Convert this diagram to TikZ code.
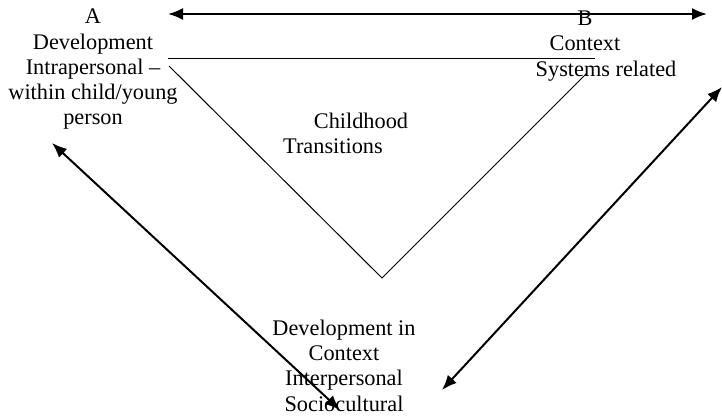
\documentclass[tikz,border=0pt]{standalone}
\usepackage{fontspec}
\setmainfont{Liberation Serif}
\usetikzlibrary{arrows.meta}
\newcommand\lblfont{\fontsize{11.15}{12.65}\selectfont}
\begin{document}
\begin{tikzpicture}[x=0.5pt,y=-0.5pt,
  lbl/.style={font=\lblfont,inner sep=0pt,align=center,anchor=base},
  tri/.style={line width=0.5pt},
  link/.style={line width=1pt,{Latex[length=7.5pt,width=6pt]}-{Latex[length=7.5pt,width=6pt]}}]
\useasboundingbox (0,0) rectangle (722,417);

% corners of the three-sided frame
\coordinate (topL) at (168,59);
\coordinate (topR) at (595,59);
\coordinate (legL) at (169,66);
\coordinate (legR) at (586,74);
\coordinate (apex) at (382,278);

\draw[tri] (topL) -- (topR);
\draw[tri] (legL) -- (apex) -- (legR);

% labels (base = last line)
\node[lbl] (devA) at (93,125) {A\\Development\\Intrapersonal --\\within child/young\\person};
\node[lbl] (ctxB) at (585,51) {B\\Context};
\node[lbl] (sysB) at (606,77) {Systems related};
\node[lbl] (child) at (361,128) {Childhood};
\node[lbl] (trans) at (333,154) {Transitions};
\node[lbl] (devC) at (344,411) {Development in\\Context\\Interpersonal\\Sociocultural};

% ends of the double arrows
\coordinate (aTopL) at (168,14);
\coordinate (aTopR) at (707,14);
\coordinate (aLeftU) at (52,143);
\coordinate (aLeftD) at (340,410);
\coordinate (aRightU) at (722,87);
\coordinate (aRightD) at (442,390);

\draw[link] (aTopL) -- (aTopR);
\draw[link] (aLeftU) -- (aLeftD);
\draw[link] (aRightD) -- (aRightU);
\end{tikzpicture}
\end{document}
